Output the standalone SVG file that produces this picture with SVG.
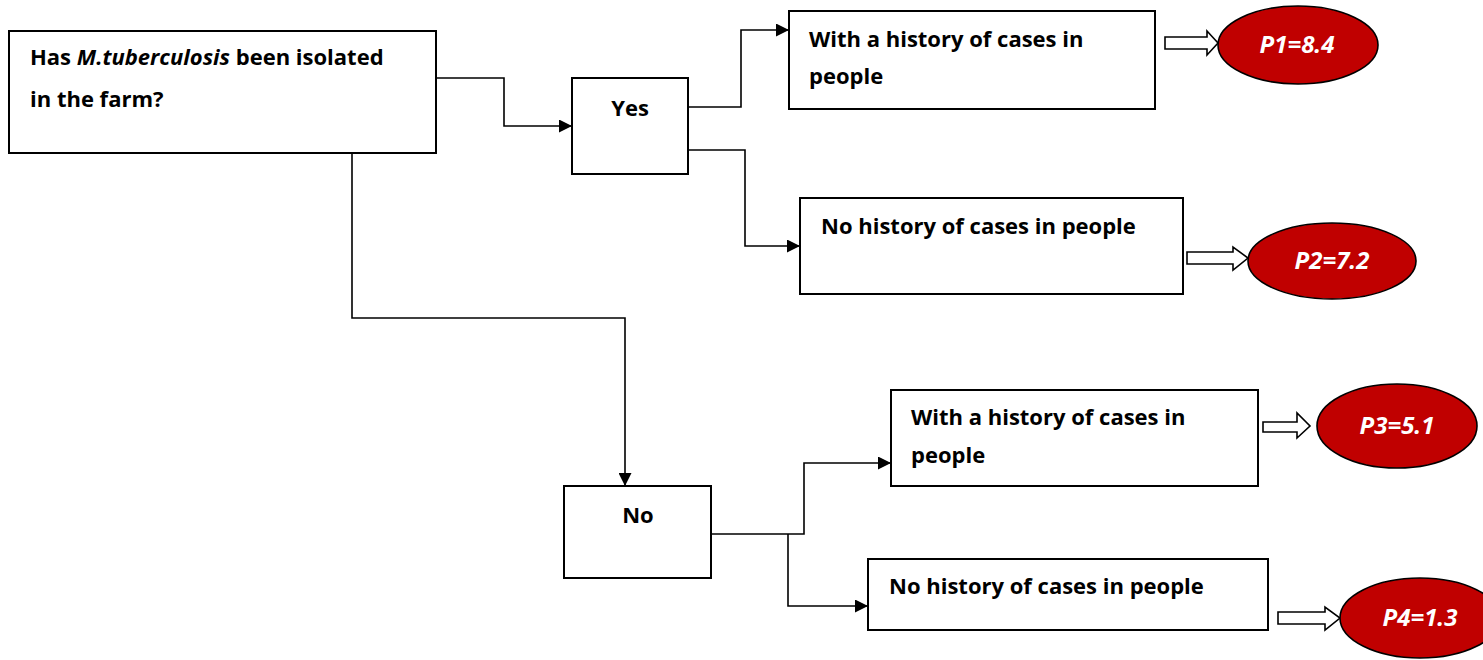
<svg xmlns="http://www.w3.org/2000/svg" width="1483" height="660" viewBox="0 0 1483 660">
  <style>
    .box { fill: #ffffff; stroke: #000000; stroke-width: 2; }
    .lbl { font-family: "Open Sans", "Liberation Sans", sans-serif; font-weight: 700; font-size: 22px; fill: #000000; }
    .wire { fill: none; stroke: #000000; stroke-width: 1.6; }
    .res { fill: #C00000; stroke: #000000; stroke-width: 1.6; }
    .rlbl { font-family: "Open Sans", "Liberation Sans", sans-serif; font-weight: 700; font-style: italic; font-size: 24px; fill: #ffffff; text-anchor: middle; }
    .hollow { fill: #ffffff; stroke: #000000; stroke-width: 1.6; stroke-linejoin: miter; }
  </style>
  <defs>
    <marker id="tip" viewBox="0 0 10 10" refX="10" refY="5" markerWidth="14" markerHeight="13" markerUnits="userSpaceOnUse" orient="auto">
      <path d="M0,0 L10,5 L0,10 z" fill="#000000"/>
    </marker>
  </defs>
  <rect width="1483" height="660" fill="#ffffff"/>

  <!-- connectors -->
  <g id="connectors">
    <polyline class="wire" points="436,78 504,78 504,126 572,126" marker-end="url(#tip)"/>
    <polyline class="wire" points="686,107 741,107 741,30 789,30" marker-end="url(#tip)"/>
    <polyline class="wire" points="686,150 745,150 745,246 800,246" marker-end="url(#tip)"/>
    <polyline class="wire" points="352,150 352,318 625,318 625,486" marker-end="url(#tip)"/>
    <polyline class="wire" points="708,534 804,534 804,463 891,463" marker-end="url(#tip)"/>
    <polyline class="wire" points="788,534 788,606 868,606" marker-end="url(#tip)"/>
    <!-- block arrows into the result ovals -->
    <path class="hollow" d="M1165,37 L1207,37 L1207,31 L1218,43 L1207,55 L1207,49 L1165,49 Z"/>
    <path class="hollow" d="M1187,252 L1233,252 L1233,247 L1248,258 L1233,270 L1233,264 L1187,264 Z"/>
    <path class="hollow" d="M1263,422 L1297,422 L1297,413 L1310,426 L1297,438 L1297,432 L1263,432 Z"/>
    <path class="hollow" d="M1278,612 L1325,612 L1325,607 L1340,618 L1325,630 L1325,624 L1278,624 Z"/>
  </g>

  <g id="question">
    <rect class="box" x="9" y="31" width="427" height="122"/>
    <text class="lbl" x="30" y="65">Has <tspan font-style="italic">M.tuberculosis</tspan> been isolated</text>
    <text class="lbl" x="30" y="107">in the farm?</text>
  </g>

  <g id="yes">
    <rect class="box" x="572" y="78" width="116" height="96"/>
    <text class="lbl" x="630" y="116" text-anchor="middle">Yes</text>
  </g>

  <g id="no">
    <rect class="box" x="564" y="486" width="147" height="92"/>
    <text class="lbl" x="638" y="523" text-anchor="middle">No</text>
  </g>

  <g id="yes-history">
    <rect class="box" x="789" y="11" width="366" height="98"/>
    <text class="lbl" x="809" y="47">With a history of cases in</text>
    <text class="lbl" x="809" y="84">people</text>
  </g>

  <g id="yes-nohistory">
    <rect class="box" x="800" y="198" width="383" height="96"/>
    <text class="lbl" x="821" y="234">No history of cases in people</text>
  </g>

  <g id="no-history">
    <rect class="box" x="891" y="390" width="367" height="96"/>
    <text class="lbl" x="911" y="425">With a history of cases in</text>
    <text class="lbl" x="911" y="463">people</text>
  </g>

  <g id="no-nohistory">
    <rect class="box" x="868" y="559" width="400" height="71"/>
    <text class="lbl" x="889" y="594">No history of cases in people</text>
  </g>

  <g id="p1">
    <ellipse class="res" cx="1298" cy="45" rx="80" ry="39"/>
    <text class="rlbl" x="1297" y="53">P1=8.4</text>
  </g>
  <g id="p2">
    <ellipse class="res" cx="1332" cy="261" rx="84" ry="38"/>
    <text class="rlbl" x="1332" y="269">P2=7.2</text>
  </g>
  <g id="p3">
    <ellipse class="res" cx="1397" cy="426" rx="80" ry="42"/>
    <text class="rlbl" x="1397" y="434">P3=5.1</text>
  </g>
  <g id="p4">
    <ellipse class="res" cx="1420" cy="618" rx="80" ry="40"/>
    <text class="rlbl" x="1420" y="626">P4=1.3</text>
  </g>
</svg>
